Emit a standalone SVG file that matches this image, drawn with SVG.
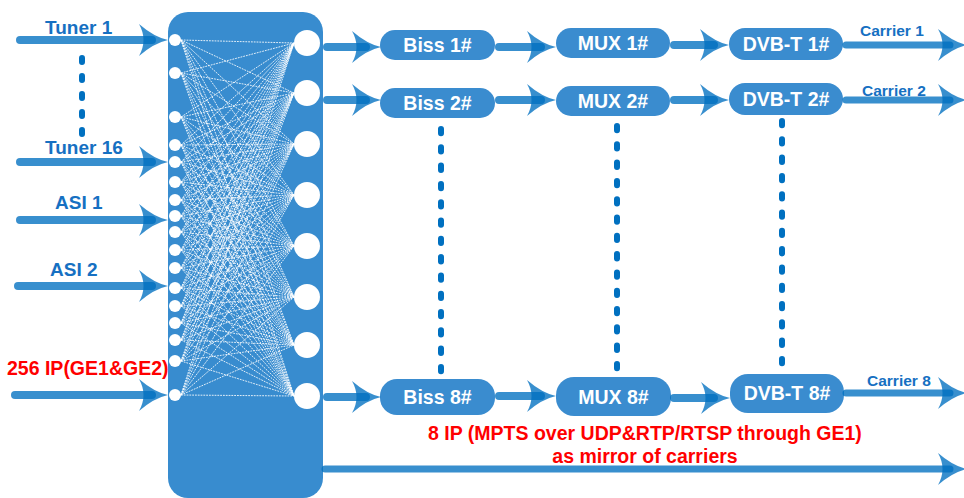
<svg xmlns="http://www.w3.org/2000/svg" xmlns:xlink="http://www.w3.org/1999/xlink" width="964" height="498" viewBox="0 0 964 498">
<style>
.node{fill:#3a8ccf}
.nt{font-family:"Liberation Sans",Arial,sans-serif;font-weight:bold;font-size:19.5px;fill:#ffffff;text-anchor:middle}
.lbl{font-family:"Liberation Sans",Arial,sans-serif;font-weight:bold;font-size:19px;fill:#1670c2}
.car{font-family:"Liberation Sans",Arial,sans-serif;font-weight:bold;font-size:15.5px;fill:#1670c2}
.red{font-family:"Liberation Sans",Arial,sans-serif;font-weight:bold;font-size:19.5px;fill:#ff0000}
.ln{stroke:#0070c0;stroke-opacity:0.78;stroke-linecap:round;fill:none}
.ah{fill:#0070c0;fill-opacity:0.78}
.dot{stroke:#0070c0;stroke-width:6;stroke-linecap:round;fill:none}
.mx{stroke:#ffffff;stroke-width:0.9;stroke-dasharray:1.8 1;stroke-opacity:0.95;fill:none}
</style>
<defs>
<path id="ah" class="ah" d="M0,0 Q-14,-3 -29,-16 Q-20,0 -29,16 Q-14,3 0,0 Z"/>
</defs>
<rect width="964" height="498" fill="#ffffff"/>

<g id="matrix">
<rect x="168" y="12" width="155" height="486" rx="20" fill="#388ccf"/>
<path class="mx" d="M181 40L294 43M181 40L294 93M181 40L294 144M181 40L294 195M181 40L294 246M181 40L294 297M181 40L294 345M181 40L294 396"/>
<path class="mx" d="M181 73L294 43M181 73L294 93M181 73L294 144M181 73L294 195M181 73L294 246M181 73L294 297M181 73L294 345M181 73L294 396"/>
<path class="mx" d="M181 117L294 43M181 117L294 93M181 117L294 144M181 117L294 195M181 117L294 246M181 117L294 297M181 117L294 345M181 117L294 396"/>
<path class="mx" d="M181 145L294 43M181 145L294 93M181 145L294 144M181 145L294 195M181 145L294 246M181 145L294 297M181 145L294 345M181 145L294 396"/>
<path class="mx" d="M181 162L294 43M181 162L294 93M181 162L294 144M181 162L294 195M181 162L294 246M181 162L294 297M181 162L294 345M181 162L294 396"/>
<path class="mx" d="M181 182L294 43M181 182L294 93M181 182L294 144M181 182L294 195M181 182L294 246M181 182L294 297M181 182L294 345M181 182L294 396"/>
<path class="mx" d="M181 200L294 43M181 200L294 93M181 200L294 144M181 200L294 195M181 200L294 246M181 200L294 297M181 200L294 345M181 200L294 396"/>
<path class="mx" d="M181 216L294 43M181 216L294 93M181 216L294 144M181 216L294 195M181 216L294 246M181 216L294 297M181 216L294 345M181 216L294 396"/>
<path class="mx" d="M181 232L294 43M181 232L294 93M181 232L294 144M181 232L294 195M181 232L294 246M181 232L294 297M181 232L294 345M181 232L294 396"/>
<path class="mx" d="M181 250L294 43M181 250L294 93M181 250L294 144M181 250L294 195M181 250L294 246M181 250L294 297M181 250L294 345M181 250L294 396"/>
<path class="mx" d="M181 268L294 43M181 268L294 93M181 268L294 144M181 268L294 195M181 268L294 246M181 268L294 297M181 268L294 345M181 268L294 396"/>
<path class="mx" d="M181 288L294 43M181 288L294 93M181 288L294 144M181 288L294 195M181 288L294 246M181 288L294 297M181 288L294 345M181 288L294 396"/>
<path class="mx" d="M181 306L294 43M181 306L294 93M181 306L294 144M181 306L294 195M181 306L294 246M181 306L294 297M181 306L294 345M181 306L294 396"/>
<path class="mx" d="M181 323L294 43M181 323L294 93M181 323L294 144M181 323L294 195M181 323L294 246M181 323L294 297M181 323L294 345M181 323L294 396"/>
<path class="mx" d="M181 340L294 43M181 340L294 93M181 340L294 144M181 340L294 195M181 340L294 246M181 340L294 297M181 340L294 345M181 340L294 396"/>
<path class="mx" d="M181 361L294 43M181 361L294 93M181 361L294 144M181 361L294 195M181 361L294 246M181 361L294 297M181 361L294 345M181 361L294 396"/>
<path class="mx" d="M181 395L294 43M181 395L294 93M181 395L294 144M181 395L294 195M181 395L294 246M181 395L294 297M181 395L294 345M181 395L294 396"/>
<g fill="#ffffff">
<circle cx="175" cy="40" r="6"/><circle cx="175" cy="73" r="6"/><circle cx="175" cy="117" r="6"/><circle cx="175" cy="145" r="6"/><circle cx="175" cy="162" r="6"/><circle cx="175" cy="182" r="6"/><circle cx="175" cy="200" r="6"/><circle cx="175" cy="216" r="6"/><circle cx="175" cy="232" r="6"/><circle cx="175" cy="250" r="6"/><circle cx="175" cy="268" r="6"/><circle cx="175" cy="288" r="6"/><circle cx="175" cy="306" r="6"/><circle cx="175" cy="323" r="6"/><circle cx="175" cy="340" r="6"/><circle cx="175" cy="361" r="6"/><circle cx="175" cy="395" r="6"/>
<circle cx="307" cy="43" r="13"/><circle cx="307" cy="93" r="13"/><circle cx="307" cy="144" r="13"/><circle cx="307" cy="195" r="13"/><circle cx="307" cy="246" r="13"/><circle cx="307" cy="297" r="13"/><circle cx="307" cy="345" r="13"/><circle cx="307" cy="396" r="13"/>
</g>
</g>

<g id="inputs">
<text class="lbl" x="45" y="34">Tuner 1</text>
<text class="lbl" x="45" y="154">Tuner 16</text>
<text class="lbl" x="55" y="209">ASI 1</text>
<text class="lbl" x="50" y="276">ASI 2</text>
<text class="red" x="7" y="375">256 IP(GE1&amp;GE2)</text>
</g>

<g id="biss1"><rect class="node" x="380" y="30" width="115" height="30" rx="15"/><text class="nt" x="437.5" y="52">Biss 1#</text></g>
<g id="biss2"><rect class="node" x="380" y="88" width="115" height="30" rx="15"/><text class="nt" x="437.5" y="110">Biss 2#</text></g>
<g id="biss8"><rect class="node" x="380" y="379" width="115" height="36" rx="17"/><text class="nt" x="437.5" y="404">Biss 8#</text></g>
<g id="mux1"><rect class="node" x="556" y="28" width="114" height="30" rx="15"/><text class="nt" x="613" y="50">MUX 1#</text></g>
<g id="mux2"><rect class="node" x="556" y="86" width="114" height="30" rx="15"/><text class="nt" x="613" y="108">MUX 2#</text></g>
<g id="mux8"><rect class="node" x="556" y="377" width="115" height="39" rx="18"/><text class="nt" x="613.5" y="404">MUX 8#</text></g>
<g id="dvbt1"><rect class="node" x="729" y="28" width="114" height="32" rx="16"/><text class="nt" x="786" y="51">DVB-T 1#</text></g>
<g id="dvbt2"><rect class="node" x="729" y="83" width="114" height="32" rx="16"/><text class="nt" x="786" y="106">DVB-T 2#</text></g>
<g id="dvbt8"><rect class="node" x="730" y="374" width="114" height="39" rx="18"/><text class="nt" x="787" y="400">DVB-T 8#</text></g>

<g id="labels">
<text class="car" x="860" y="36">Carrier 1</text>
<text class="car" x="862" y="96">Carrier 2</text>
<text class="car" x="867" y="386">Carrier 8</text>
<text class="red" x="645" y="440" text-anchor="middle">8 IP (MPTS over UDP&amp;RTP/RTSP through GE1)</text>
<text class="red" x="645" y="463" text-anchor="middle">as mirror of carriers</text>
</g>

<g id="connectors">
<g stroke-width="8">
<line class="ln" x1="20" y1="40" x2="152" y2="40"/>
<line class="ln" x1="20" y1="162" x2="152" y2="162"/>
<line class="ln" x1="20" y1="220" x2="152" y2="220"/>
<line class="ln" x1="18" y1="286" x2="152" y2="286"/>
<line class="ln" x1="15" y1="395" x2="152" y2="395"/>
<line class="ln" x1="327" y1="47" x2="366" y2="47"/>
<line class="ln" x1="327" y1="100" x2="366" y2="100"/>
<line class="ln" x1="327" y1="397" x2="366" y2="397"/>
<line class="ln" x1="499" y1="47" x2="541" y2="47"/>
<line class="ln" x1="499" y1="100" x2="541" y2="100"/>
<line class="ln" x1="499" y1="396" x2="541" y2="396"/>
<line class="ln" x1="674" y1="45" x2="714" y2="45"/>
<line class="ln" x1="674" y1="100" x2="714" y2="100"/>
<line class="ln" x1="674" y1="398" x2="714" y2="398"/>
</g>
<g stroke-width="7">
<line class="ln" x1="846" y1="45" x2="950" y2="45"/>
<line class="ln" x1="846" y1="100" x2="950" y2="100"/>
<line class="ln" x1="846" y1="393" x2="950" y2="393"/>
<line class="ln" x1="325" y1="469" x2="950" y2="469"/>
</g>
<use xlink:href="#ah" x="168" y="40"/>
<use xlink:href="#ah" x="168" y="162"/>
<use xlink:href="#ah" x="168" y="220"/>
<use xlink:href="#ah" x="168" y="286"/>
<use xlink:href="#ah" x="168" y="395"/>
<use xlink:href="#ah" x="381" y="47"/>
<use xlink:href="#ah" x="381" y="100"/>
<use xlink:href="#ah" x="381" y="397"/>
<use xlink:href="#ah" x="556" y="47"/>
<use xlink:href="#ah" x="556" y="100"/>
<use xlink:href="#ah" x="556" y="396"/>
<use xlink:href="#ah" x="729" y="45"/>
<use xlink:href="#ah" x="729" y="100"/>
<use xlink:href="#ah" x="730" y="398"/>
<use xlink:href="#ah" x="967" y="45"/>
<use xlink:href="#ah" x="967" y="100"/>
<use xlink:href="#ah" x="967" y="393"/>
<use xlink:href="#ah" x="967" y="469"/>
<line class="dot" x1="82" y1="58" x2="82" y2="134" stroke-dasharray="4 14"/>
<line class="dot" x1="441" y1="129" x2="441" y2="372" stroke-dasharray="4.3 14"/>
<line class="dot" x1="617" y1="126" x2="617" y2="370" stroke-dasharray="4.3 14"/>
<line class="dot" x1="782" y1="121" x2="782" y2="364" stroke-dasharray="4.3 14"/>
</g>
</svg>
